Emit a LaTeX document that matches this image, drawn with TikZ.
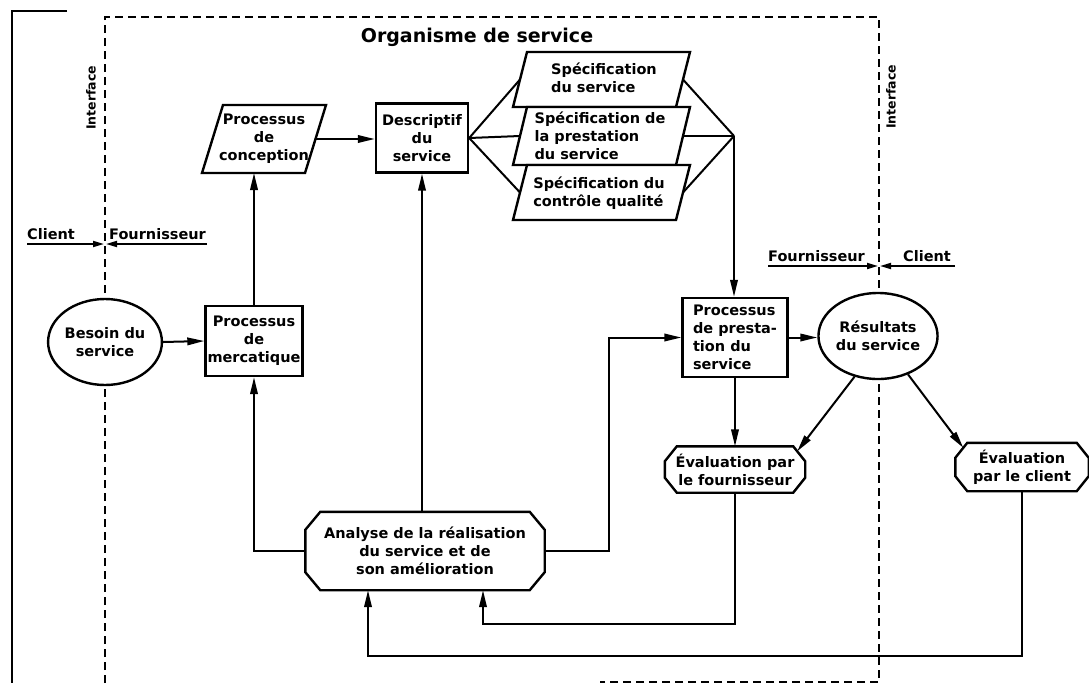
\documentclass[tikz,border=0pt]{standalone}
\usepackage{fontspec}
\setmainfont{DejaVu Sans}
\usetikzlibrary{arrows.meta,shapes.geometric,calc}
\newcommand\octpath[3]{\draw[octline] ($(#1.north west)+(#2,0)$) -- ($(#1.north east)+(-#2,0)$) -- ($(#1.north east)+(0,#3)$) -- ($(#1.south east)+(0,-#3)$) -- ($(#1.south east)+(-#2,0)$) -- ($(#1.south west)+(#2,0)$) -- ($(#1.south west)+(0,-#3)$) -- ($(#1.north west)+(0,#3)$) -- cycle;}
\begin{document}
\begin{tikzpicture}[x=1pt,y=-1pt,
  txt/.style={inner sep=0pt, align=center, font=\fontsize{14.5}{18}\selectfont\bfseries},
  box/.style={txt, draw, line width=2.4pt, fill=white},
  rectbox/.style={box, rectangle},
  octbox/.style={txt, rectangle},
  octline/.style={draw, line width=2.4pt, line join=miter},
  ell/.style={box, ellipse},
  para/.style={draw, line width=2.4pt, fill=white, line join=miter},
  conn/.style={line width=2pt},
  arr/.style={conn, -{Triangle[length=17pt,width=7.5pt]}},
  sarr/.style={line width=1.8pt, -{Triangle[length=11pt,width=6pt]}},
  iface/.style={line width=2.4pt, dash pattern=on 8pt off 5pt},
  frame/.style={line width=2.4pt},
]
\useasboundingbox (0,0) rectangle (1089,683);

% outer frame and interface
\draw[frame] (67,11) -- (12,11) -- (12,683);
\draw[iface] (105,683) -- (105,17) -- (879,17) -- (879,682) -- (600,682);

\node[font=\fontsize{19}{23}\selectfont\bfseries] (title) at (477,37) {Organisme de service};
\node[font=\fontsize{12.5}{15}\selectfont\bfseries, rotate=90] (ifaceL) at (91,98) {Interface};
\node[font=\fontsize{12.5}{15}\selectfont\bfseries, rotate=90] (ifaceR) at (891,97) {Interface};

% client / fournisseur separators
\node[txt, anchor=base west] (clientL) at (27,239) {Client};
\node[txt, anchor=base west] (fourL) at (109,239) {Fournisseur};
\coordinate (cl1) at (27,244);
\coordinate (cl2) at (207,244);
\coordinate (ifL) at (105,244);
\draw[sarr] (cl1) -- ([xshift=-1pt]ifL);
\draw[sarr] (cl2) -- ([xshift=1pt]ifL);

\node[txt, anchor=base west] (fourR) at (768,261) {Fournisseur};
\node[txt, anchor=base west] (clientR) at (903,261) {Client};
\coordinate (cr1) at (768,266);
\coordinate (cr2) at (955,266);
\coordinate (ifR) at (879,266);
\draw[sarr] (cr1) -- ([xshift=-1pt]ifR);
\draw[sarr] (cr2) -- ([xshift=1pt]ifR);

% nodes
\node[ell, minimum width=104pt, minimum height=86pt] (besoin) at (105,342) {Besoin du\\service};
\node[rectbox, minimum width=97pt, minimum height=70pt] (merc) at (254,341) {Processus\\de\\mercatique};

\draw[para] (223,105) -- (326,105) -- (305,173) -- (202,173) -- cycle;
\node[txt] (conc) at (264,139) {Processus\\de\\conception};
\coordinate (concE) at (315.5,139);
\coordinate (concS) at (254,173);

\node[rectbox, minimum width=92pt, minimum height=69pt] (desc) at (422,138) {Descriptif\\du\\service};

\draw[para] (527,52) -- (690,52) -- (676,107) -- (513,107) -- cycle;
\draw[para] (527,107) -- (690,107) -- (676,165) -- (513,165) -- cycle;
\draw[para] (527,165) -- (690,165) -- (676,220) -- (513,220) -- cycle;
\node[txt, align=left] (spec1) at (604,78) {Spécification\\du service};
\node[txt, align=left] (spec2) at (600,136) {Spécification de\\la prestation\\du service};
\node[txt, align=left] (spec3) at (599,193) {Spécification du\\contrôle qualité};
\coordinate (s1W) at (520,79.5);
\coordinate (s2W) at (520,136);
\coordinate (s3W) at (520,192.5);
\coordinate (s1E) at (683,79.5);
\coordinate (s2E) at (683,136);
\coordinate (s3E) at (683,192.5);
\coordinate (junc) at (734,136);

\node[rectbox, align=left, minimum width=105pt, minimum height=79pt] (prest) at (735,337.5) {Processus\\de presta-\\tion du\\service};
\node[ell, minimum width=104pt, minimum height=86pt] (res) at (878,336) {Résultats\\du service};

\node[octbox, minimum width=140pt, minimum height=46pt] (evalf) at (735,469.5) {Évaluation par\\le fournisseur};
\octpath{evalf}{12}{15}
\node[octbox, minimum width=133pt, minimum height=48pt] (evalc) at (1022,467) {Évaluation\\par le client};
\octpath{evalc}{12}{15}
\node[octbox, minimum width=239pt, minimum height=78pt] (ana) at (425,551) {Analyse de la réalisation\\du service et de\\son amélioration};
\octpath{ana}{15}{18}

\coordinate (bx) at (609,0);
\coordinate (lf) at (483,624);
\coordinate (lc) at (368,656);

% connectors
\draw[arr] (besoin.east) -- (merc.west);
\draw[arr] (merc.north) -- (concS);
\draw[arr] (concE) -- (desc.west |- concE);
\draw[conn] (desc.east) -- (s1W);
\draw[conn] (desc.east) -- (s2W);
\draw[conn] (desc.east) -- (s3W);
\draw[conn] (s1E) -- (junc);
\draw[conn] (s2E) -- (junc);
\draw[conn] (s3E) -- (junc);
\draw[arr] (junc) -- (junc |- prest.north);
\draw[arr] (ana.west) -| (merc.south);
\draw[arr] (desc.south |- ana.north) -- (desc.south);
\draw[arr] (ana.east) -- (ana.east -| bx) |- (prest.west);
\draw[arr] (prest.east) -- (prest.east -| res.west);
\draw[arr] (prest.south) -- (evalf.north);
\draw[arr] (res.-120) -- ($(evalf.north east)+(-8,5)$);
\draw[arr] (res.-52) -- ($(evalc.north west)+(8,5)$);
\draw[arr] (evalf.south) |- (lf) -- (lf |- ana.south);
\draw[arr] (evalc.south) |- (lc) -- (lc |- ana.south);
\end{tikzpicture}
\end{document}
